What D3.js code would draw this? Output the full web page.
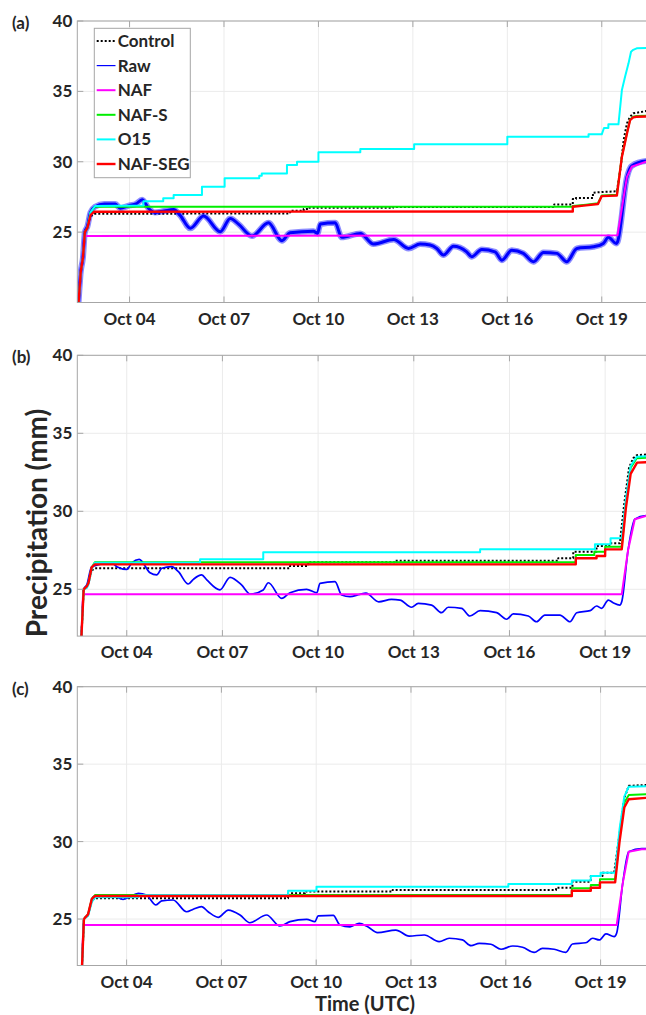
<!DOCTYPE html>
<html><head><meta charset="utf-8">
<script src="https://cdn.jsdelivr.net/npm/d3@7"></script>
<style>
body{margin:0;background:#fff}
svg text{font-family:Lato,"Open Sans",sans-serif;font-weight:700;fill:#262626}
</style>
</head><body>
<svg id="chart" width="646" height="1015"></svg>
<script>
// ---------- DATA (x = day of October, y = precipitation in mm) ----------
const seriesNames = ["Control","Raw","NAF","NAF-S","O15","NAF-SEG"];
const xTickDays = [4,7,10,13,16,19];
const yTickValues = [25,30,35,40];
const panelLabels = ["(a)","(b)","(c)"];

// Panel (a)
const controlA = [[2.38,20],[2.45,22.2],[2.52,23.2],[2.58,25.0],[2.66,25.3],[2.76,26.1],[2.88,26.3],[9.10,26.33],[9.10,26.52],[9.53,26.52],[9.53,26.64],[9.68,26.64],[9.68,26.73],[12.37,26.73],[12.37,26.78],[17.49,26.78],[17.49,26.97],[18.08,26.97],[18.08,27.35],[18.18,27.35],[18.18,27.42],[18.72,27.42],[18.72,27.8],[19.0,27.85],[19.48,27.9],[19.6,29.6],[19.7,31.6],[19.80,32.73],[19.9,33.2],[20.0,33.44],[20.41,33.6],[20.9,33.65]];
const rawA = [[2.38,20],[2.45,22.2],[2.52,23.2],[2.58,25.0],[2.66,25.4],[2.76,26.4],[2.9,26.8],[3.2,27.0],[3.55,27.0],[3.7,26.7],[4.0,26.9],[4.2,27.0],[4.4,27.3],[4.6,26.7],[4.8,26.4],[5.1,26.5],[5.4,26.6],[5.6,26.21],[5.93,25.27],[6.35,26.14],[6.88,25.03],[7.2,25.97],[7.46,25.57],[7.89,24.72],[8.41,25.66],[8.84,24.39],[9.10,24.96],[9.84,25.07],[9.97,24.91],[10.06,25.57],[10.53,25.66],[10.74,24.63],[11.33,24.91],[11.75,24.15],[12.39,24.48],[12.86,23.84],[13.23,24.15],[13.55,24.08],[13.76,23.84],[13.97,23.37],[14.29,24.0],[14.71,23.6],[14.87,23.25],[15.19,23.77],[15.61,23.6],[15.83,23.01],[16.14,23.72],[16.51,23.49],[16.83,22.9],[17.15,23.55],[17.57,23.49],[17.89,22.9],[18.21,23.84],[18.73,23.96],[19.05,24.2],[19.21,24.63],[19.46,24.2],[19.5,24.3],[19.80,28.9],[19.95,29.7],[20.41,30.05],[20.9,30.1]];
const nafA = [[2.38,20],[2.45,22.2],[2.52,23.2],[2.57,24.72],[19.5,24.77],[19.80,28.93],[19.95,29.64],[20.41,30.0],[20.9,30.05]];
const nafsA = [[2.38,20],[2.45,22.2],[2.52,23.2],[2.58,25.0],[2.66,25.3],[2.76,26.4],[2.9,26.8],[18.08,26.8],[18.08,26.85],[18.5,26.95],[18.88,27.05],[19.0,27.6],[19.48,27.65],[19.64,30.4],[19.80,32.05],[19.90,33.0],[20.0,33.2],[20.1,33.25],[20.9,33.3]];
const o15A = [[2.38,20],[2.45,22.2],[2.52,23.2],[2.58,25.0],[2.66,25.3],[2.76,26.4],[2.9,26.85],[4.44,26.9],[4.44,27.2],[5.07,27.2],[5.07,27.4],[5.40,27.4],[5.40,27.63],[6.30,27.63],[6.30,28.22],[7.02,28.22],[7.02,28.82],[8.12,28.82],[8.12,29.0],[8.2,29.0],[8.2,29.17],[9.0,29.17],[9.0,29.77],[9.32,29.77],[9.32,30.0],[10.0,30.0],[10.0,30.67],[11.33,30.67],[11.33,30.9],[13.04,30.9],[13.04,31.24],[16.0,31.24],[16.0,31.78],[18.58,31.78],[18.58,31.95],[19.0,31.95],[19.07,32.4],[19.21,32.4],[19.21,32.66],[19.53,32.66],[19.64,35.1],[19.74,36.04],[19.85,36.99],[19.93,37.82],[20.0,37.95],[20.11,38.06],[20.9,38.1]];
const nafsegA = [[2.38,20],[2.45,22.2],[2.52,23.2],[2.58,25.0],[2.66,25.3],[2.76,26.2],[2.88,26.45],[18.08,26.47],[18.08,26.8],[18.5,26.9],[18.88,27.0],[19.0,27.56],[19.48,27.6],[19.64,30.36],[19.80,32.0],[19.90,32.96],[20.0,33.15],[20.1,33.2],[20.9,33.25]];

// Panel (b)
const controlB = [[2.58,22],[2.65,25.0],[2.75,25.2],[2.8,25.4],[2.9,26.2],[3.0,26.35],[9.12,26.35],[9.12,26.49],[9.69,26.49],[9.69,26.73],[12.4,26.73],[12.4,26.83],[17.53,26.83],[17.53,26.99],[18.0,26.99],[18.0,27.41],[18.73,27.41],[18.73,27.78],[19.13,27.78],[19.13,27.95],[19.46,27.95],[19.6,30.5],[19.75,32.8],[19.88,33.4],[19.99,33.6],[20.8,33.7]];
const rawB = [[2.58,22],[2.65,25.0],[2.75,25.3],[2.9,26.45],[3.53,26.7],[3.69,26.45],[4.0,26.28],[4.16,26.7],[4.39,26.92],[4.73,26.06],[4.94,25.92],[5.1,26.35],[5.41,26.45],[5.62,26.13],[5.93,25.34],[6.09,25.64],[6.35,25.92],[6.51,25.6],[6.92,24.96],[7.24,25.77],[7.6,25.28],[7.87,24.7],[8.28,24.96],[8.44,25.42],[8.86,24.42],[9.12,24.78],[9.64,25.0],[9.96,24.78],[10.06,25.38],[10.53,25.49],[10.74,24.63],[11.0,24.53],[11.31,24.68],[11.5,24.75],[11.9,24.2],[12.3,24.35],[12.57,24.31],[12.93,23.85],[13.14,24.1],[13.56,23.99],[13.87,23.5],[14.08,23.85],[14.5,23.78],[14.76,23.29],[15.08,23.63],[15.6,23.5],[15.91,23.08],[16.12,23.42],[16.59,23.29],[16.85,22.92],[17.11,23.35],[17.58,23.35],[17.9,22.92],[18.11,23.5],[18.53,23.63],[18.73,23.93],[18.89,23.78],[19.1,24.31],[19.25,24.14],[19.46,23.99],[19.52,24.2],[19.72,27.52],[19.93,29.49],[20.28,29.72],[20.8,29.75]];
const nafB = [[2.58,22],[2.63,24.68],[19.52,24.68],[19.72,27.52],[19.93,29.49],[20.28,29.7],[20.8,29.75]];
const nafsB = [[2.58,22],[2.65,25.0],[2.75,25.2],[2.8,25.4],[2.9,26.4],[3.0,26.73],[18.08,26.73],[18.08,27.2],[18.66,27.2],[18.66,27.41],[19.0,27.41],[19.0,27.73],[19.52,27.73],[19.65,30.5],[19.8,32.8],[19.99,33.4],[20.8,33.5]];
const o15B = [[2.58,22],[2.65,25.0],[2.75,25.1],[2.8,25.3],[2.9,26.3],[3.0,26.7],[6.30,26.7],[6.30,26.92],[8.28,26.92],[8.28,27.37],[15.08,27.37],[15.08,27.56],[18.68,27.56],[18.68,27.88],[19.17,27.88],[19.17,28.27],[19.52,28.27],[19.65,30.8],[19.8,32.9],[19.99,33.5],[20.8,33.6]];
const nafsegB = [[2.58,22],[2.65,25.0],[2.75,25.2],[2.8,25.4],[2.9,26.4],[3.0,26.6],[18.08,26.6],[18.08,26.99],[18.73,26.99],[18.73,27.13],[19.0,27.13],[19.0,27.56],[19.52,27.56],[19.65,30.2],[19.8,32.4],[20.0,33.12],[20.8,33.2]];

// Panel (c)
const controlC = [[2.59,22],[2.65,25.0],[2.78,25.3],[2.9,26.2],[3.0,26.34],[9.11,26.34],[9.11,26.66],[9.64,26.66],[9.64,26.77],[12.42,26.77],[12.42,26.88],[17.59,26.88],[17.59,27.02],[18.11,27.02],[18.11,27.41],[18.69,27.41],[18.69,27.78],[19.06,27.78],[19.06,27.99],[19.43,27.99],[19.6,30.5],[19.75,32.8],[19.89,33.6],[20.9,33.7]];
const rawC = [[2.59,22],[2.65,25.0],[2.78,25.3],[2.94,26.44],[3.58,26.49],[3.89,26.27],[4.05,26.38],[4.37,26.66],[4.63,26.55],[4.93,25.91],[5.11,26.17],[5.47,26.23],[5.9,25.47],[6.11,25.63],[6.37,25.8],[6.58,25.47],[6.9,25.11],[7.22,25.58],[7.59,25.26],[7.9,24.76],[8.43,25.26],[8.85,24.55],[9.17,24.83],[9.7,24.98],[9.96,24.83],[10.06,25.2],[10.54,25.24],[10.75,24.62],[11.07,24.5],[11.36,24.72],[11.63,24.5],[11.94,24.12],[12.52,24.29],[12.94,23.9],[13.42,23.97],[13.89,23.54],[14.21,23.76],[14.63,23.65],[14.9,23.28],[15.16,23.43],[15.53,23.37],[15.85,23.05],[16.22,23.26],[16.53,23.18],[16.9,22.85],[17.16,23.11],[17.53,23.05],[17.9,22.85],[18.11,23.39],[18.53,23.47],[18.75,23.76],[18.96,23.65],[19.17,24.04],[19.43,23.86],[19.51,24.1],[19.70,27.3],[19.89,29.35],[20.3,29.55],[20.9,29.55]];
const nafC = [[2.59,22],[2.63,24.62],[19.51,24.62],[19.70,27.3],[19.89,29.35],[20.3,29.5],[20.9,29.5]];
const nafsC = [[2.59,22],[2.65,25.0],[2.78,25.3],[2.9,26.3],[3.0,26.55],[18.09,26.55],[18.09,26.98],[18.69,26.98],[18.69,27.2],[18.98,27.2],[18.98,27.57],[19.46,27.57],[19.6,30.3],[19.75,32.5],[19.89,33.0],[20.9,33.1]];
const o15C = [[2.59,22],[2.65,25.0],[2.78,25.2],[2.9,26.1],[3.0,26.4],[4.37,26.4],[4.37,26.55],[9.11,26.55],[9.11,26.83],[10.01,26.83],[10.01,27.09],[16.08,27.09],[16.08,27.26],[18.09,27.26],[18.09,27.48],[18.69,27.48],[18.69,27.78],[19.0,27.78],[19.0,27.99],[19.46,27.99],[19.6,30.8],[19.75,32.9],[19.89,33.54],[20.9,33.6]];
const nafsegC = [[2.59,22],[2.65,25.0],[2.78,25.3],[2.9,26.3],[3.0,26.49],[18.09,26.49],[18.09,26.83],[18.69,26.83],[18.69,27.02],[18.98,27.02],[18.98,27.37],[19.46,27.37],[19.6,30.0],[19.75,32.2],[19.89,32.73],[20.9,32.9]];

// ---------- LAYOUT / STYLE ----------
const LEFT = 77.3, RIGHT = 660;
const panels = [
  {label:panelLabels[0], x0:2.34, x1:20.85, y0:20, top:21, bottom:302.5,
   data:[controlA,rawA,nafA,nafsA,o15A,nafsegA], noisy:true, legend:true},
  {label:panelLabels[1], x0:2.45, x1:20.72, y0:22, top:355.3, bottom:636.1,
   data:[controlB,rawB,nafB,nafsB,o15B,nafsegB], noisy:false},
  {label:panelLabels[2], x0:2.44, x1:20.88, y0:22, top:686.7, bottom:965.5,
   data:[controlC,rawC,nafC,nafsC,o15C,nafsegC], noisy:false}
];
const styles = [
  {color:"#000000", width:2, dash:"2,2"},
  {color:"#0000ff", width:1.7, raw:true},
  {color:"#ff00ff", width:2},
  {color:"#00ee00", width:2},
  {color:"#00ffff", width:2},
  {color:"#ff0000", width:2.4}
];
const AXIS = "#a6a6a6", GRID = "#ebebeb";
const DAY0 = Date.UTC(2019, 9, 1);
const toDate = d => new Date(DAY0 + (d - 1) * 864e5);
const fmt = d3.utcFormat("%b %d");

const svg = d3.select("#chart");
svg.append("rect").attr("width",646).attr("height",1015).attr("fill","#fff");

panels.forEach((p, i) => {
  const x = d3.scaleUtc().domain([toDate(p.x0), toDate(p.x1)]).range([LEFT, RIGHT]);
  const y = d3.scaleLinear().domain([p.y0, 40]).range([p.bottom, p.top]);
  const g = svg.append("g");
  const xt = xTickDays.map(toDate);

  // grid
  g.selectAll(null).data(xt).join("line")
    .attr("x1", d => x(d)).attr("x2", d => x(d)).attr("y1", p.top).attr("y2", p.bottom)
    .attr("stroke", GRID).attr("stroke-width", 1);
  g.selectAll(null).data(yTickValues).join("line")
    .attr("x1", LEFT).attr("x2", RIGHT).attr("y1", d => y(d)).attr("y2", d => y(d))
    .attr("stroke", GRID).attr("stroke-width", 1);

  // lines
  const clipId = "clip" + i;
  svg.append("clipPath").attr("id", clipId).append("rect")
    .attr("x", LEFT).attr("y", p.top).attr("width", RIGHT - LEFT).attr("height", p.bottom - p.top);
  const line = d3.line().x(d => x(toDate(d[0]))).y(d => y(d[1]));
  const smooth = d3.line().x(d => x(toDate(d[0]))).y(d => y(d[1])).curve(d3.curveMonotoneX);
  const lg = g.append("g").attr("clip-path", `url(#${clipId})`);
  p.data.forEach((s, k) => {
    const st = styles[k];
    if (st.raw) {
      if (p.noisy) {
        lg.append("path").attr("d", smooth(s)).attr("fill", "none")
          .attr("stroke", st.color).attr("stroke-width", 6).attr("stroke-opacity", 0.45)
          .attr("stroke-linejoin", "round");
        lg.append("path").attr("d", smooth(s)).attr("fill", "none")
          .attr("stroke", st.color).attr("stroke-width", 3).attr("stroke-linejoin", "round");
      } else {
        lg.append("path").attr("d", smooth(s)).attr("fill", "none")
          .attr("stroke", st.color).attr("stroke-width", st.width).attr("stroke-linejoin", "round");
      }
      return;
    }
    lg.append("path").attr("d", line(s)).attr("fill", "none")
      .attr("stroke", st.color).attr("stroke-width", st.width)
      .attr("stroke-dasharray", st.dash || null)
      .attr("stroke-linejoin", "round");
  });

  // box
  g.append("rect").attr("x", LEFT).attr("y", p.top).attr("width", RIGHT - LEFT).attr("height", p.bottom - p.top)
    .attr("fill", "none").attr("stroke", AXIS).attr("stroke-width", 1);
  // ticks (inward)
  g.selectAll(null).data(xt).join("line")
    .attr("x1", d => x(d)).attr("x2", d => x(d)).attr("y1", p.bottom).attr("y2", p.bottom - 6)
    .attr("stroke", AXIS);
  g.selectAll(null).data(xt).join("line")
    .attr("x1", d => x(d)).attr("x2", d => x(d)).attr("y1", p.top).attr("y2", p.top + 6)
    .attr("stroke", AXIS);
  g.selectAll(null).data(yTickValues).join("line")
    .attr("x1", LEFT).attr("x2", LEFT + 6).attr("y1", d => y(d)).attr("y2", d => y(d))
    .attr("stroke", AXIS);

  // tick labels
  g.selectAll(null).data(xt).join("text")
    .attr("x", d => x(d)).attr("y", p.bottom + 22).attr("text-anchor", "middle")
    .attr("font-size", 17).text(d => fmt(d));
  g.selectAll(null).data(yTickValues).join("text")
    .attr("x", LEFT - 5).attr("y", d => y(d) + 6).attr("text-anchor", "end")
    .attr("font-size", 17).text(d => d);
  // panel label
  g.append("text").attr("x", 12).attr("y", p.top + 8).attr("font-size", 17).text(p.label);

  // legend
  if (p.legend) {
    const lx = 94.3, ly = 28.3, lw = 96, lh = 149.4;
    const leg = g.append("g");
    leg.append("rect").attr("x", lx).attr("y", ly).attr("width", lw).attr("height", lh)
      .attr("fill", "#fff").attr("stroke", AXIS).attr("stroke-width", 1);
    seriesNames.forEach((name, k) => {
      const cy = 41 + k * 24.6;
      const st = styles[k];
      leg.append("line").attr("x1", 96.7).attr("x2", 115.5).attr("y1", cy).attr("y2", cy)
        .attr("stroke", st.color).attr("stroke-width", st.raw ? 1.2 : st.width)
        .attr("stroke-dasharray", st.dash || null);
      leg.append("text").attr("x", 117.7).attr("y", cy + 6).attr("font-size", 17).text(name);
    });
  }
});

// axis titles
svg.append("text").attr("transform", "translate(46.5,523) rotate(-90)")
  .attr("text-anchor", "middle").attr("font-size", 28).text("Precipitation (mm)");
svg.append("text").attr("x", 365).attr("y", 1011)
  .attr("text-anchor", "middle").attr("font-size", 20).text("Time (UTC)");
</script>
</body></html>
